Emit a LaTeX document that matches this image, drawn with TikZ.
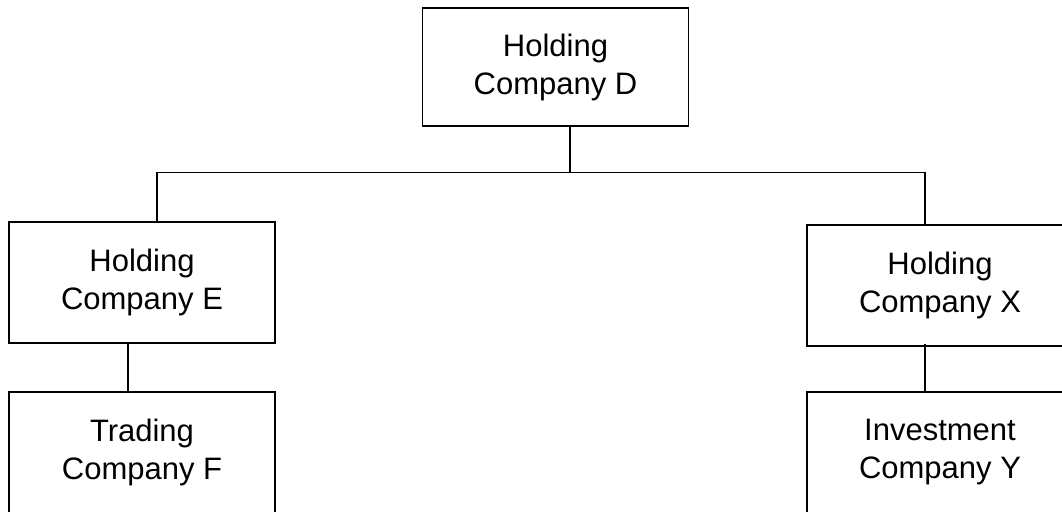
\documentclass[tikz,border=0pt]{standalone}
\usepackage{fontspec}
\setmainfont{Liberation Sans}
\begin{document}
\begin{tikzpicture}[x=1pt, y=-1pt,
    orgbox/.style={draw, rectangle, line width=1.2pt, minimum width=266pt, minimum height=121pt,
      align=center, font=\fontsize{31}{38}\selectfont, inner sep=0pt},
    link/.style={line width=1.2pt}]
    \useasboundingbox (0,0) rectangle (1062,514);
    \clip (0,0) rectangle (1062,511.5);

    % Top holding company
    \node[orgbox, minimum height=118pt] (D) at (555.5,67) {Holding\\Company D};

    % Intermediate holding companies
    \node[orgbox] (E) at (142,282.5) {Holding\\Company E};
    \node[orgbox] (X) at (940,285.5) {Holding\\Company X};

    % Operating companies
    \node[orgbox] (F) at (142,452.5) {Trading\\Company F};
    \node[orgbox] (Y) at (940,452.5) {Investment\\Company Y};

    % Connectors
    \draw[link] ([xshift=14.5pt]D.south) -- ++(0,46) coordinate (bus);
    \draw[link] ([xshift=15pt]E.north) |- (bus) -| ([xshift=-15pt]X.north);
    \draw[link] ([xshift=-14pt]E.south) -- ([xshift=-14pt]F.north);
    \draw[link] ([xshift=-15pt,yshift=3pt]X.south) -- ([xshift=-15pt]Y.north);
\end{tikzpicture}
\end{document}
